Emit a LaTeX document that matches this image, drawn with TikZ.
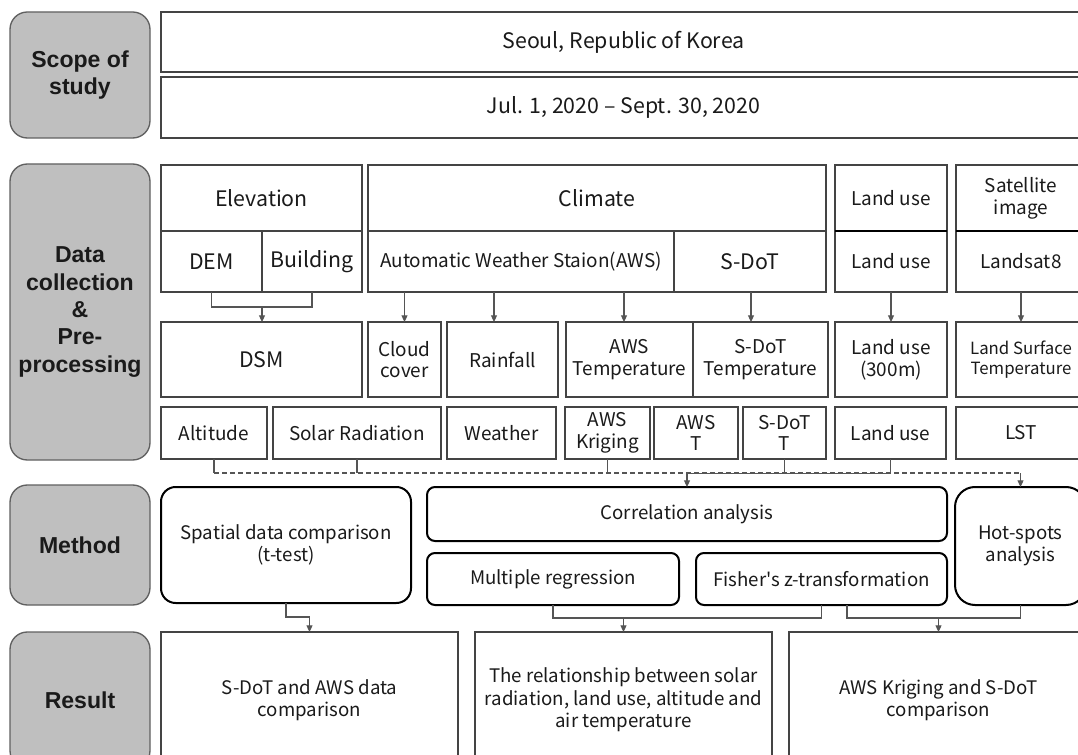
\documentclass[tikz,border=0pt]{standalone}
\usepackage{fontspec}
\setmainfont{Noto Sans CJK KR}[Ligatures=TeXOff]
\newfontfamily\lblfont{Liberation Sans}
\usetikzlibrary{arrows.meta}
\definecolor{lblgray}{HTML}{BFBFBF}
\definecolor{edgec}{HTML}{444444}
\definecolor{connc}{HTML}{555555}
\definecolor{txtc}{HTML}{1A1A1A}
\newcommand\bx[7]{\node[#1, minimum width={(#4-#3)*0.75pt}, minimum height={(#6-#5)*0.75pt}] (#2) at ({(#3+#4)/2},{(#5+#6)/2}) {#7};}
\tikzset{
 base/.style={inner sep=0pt, outer sep=0pt, align=center, text=txtc, font=\fontsize{14.2}{16.3}\selectfont},
 box/.style={base, draw=edgec, line width=0.9pt},
 bigbox/.style={box, font=\fontsize{16}{17}\selectfont},
 smallbox/.style={box, font=\fontsize{12.6}{15}\selectfont},
 lbl/.style={base, draw=edgec!85, fill=lblgray, line width=1pt, rounded corners=13pt, font=\lblfont\bfseries\fontsize{17.3}{20.5}\selectfont},
 meth/.style={base, draw=black, line width=1.5pt, rounded corners=#1, font=\fontsize{14}{16.5}\selectfont},
 meth/.default=8pt,
 res/.style={box, font=\fontsize{14}{16.8}\selectfont},
 wire/.style={draw=connc, line width=0.8pt},
 arr/.style={wire, -{Triangle[length=5pt,width=4.5pt]}},
 dsh/.style={wire, dash pattern=on 3.5pt off 2.5pt},
}
\begin{document}
\begin{tikzpicture}[x=0.75pt,y=-0.75pt]
\useasboundingbox (0,0) rectangle (1078,755);
\fill[white] (0,0) rectangle (1078,755);
\clip (0,0) rectangle (1078,755);
% labels
\bx{lbl}{scope}{10}{150}{12}{138}{Scope of\\study}
\bx{lbl}{data}{10}{150}{164}{460}{Data\\collection\\\&\\Pre-\\processing}
\bx{lbl}{meth}{10}{150}{485}{605}{Method}
\bx{lbl}{res}{10}{150}{632}{768}{Result}
% scope
\bx{bigbox}{seoul}{161}{1086}{12}{72}{Seoul, Republic of Korea}
\bx{bigbox}{jul}{161}{1086}{77}{138}{Jul. 1, 2020 – Sept. 30, 2020}
% row 1
\bx{bigbox}{elev}{161}{362}{165}{231}{Elevation}
\bx{bigbox}{clim}{368}{826}{165}{231}{Climate}
\bx{box}{lu1}{835}{947}{165}{231}{Land use}
\bx{box}{sat}{956}{1086}{165}{231}{Satellite\\image}
% row 2
\bx{bigbox}{dem}{161}{262}{231}{292}{DEM}
\bx{bigbox}{bld}{262}{362}{231}{292}{Building}
\bx{box}{aws}{368}{674}{231}{292}{Automatic Weather Staion(AWS)}
\bx{bigbox}{sdot}{674}{826}{231}{292}{S-DoT}
\bx{box}{lu2}{835}{947}{231}{292}{Land use}
\bx{box}{lsat}{956}{1086}{231}{292}{Landsat8}
\draw[black, line width=1.4pt] (lu1.south west) -- (lu1.south east);
\draw[black, line width=1.4pt] (sat.south west) -- (sat.south east);
% row 3
\bx{bigbox}{dsm}{161}{362}{322}{397}{DSM}
\bx{box}{cloud}{368}{441}{322}{397}{Cloud\\cover}
\bx{box}{rain}{447}{558}{322}{397}{Rainfall}
\bx{box}{awst}{566}{693}{322}{397}{AWS\\Temperature}
\bx{box}{sdott}{693}{828}{322}{397}{S-DoT\\Temperature}
\bx{box}{lu3}{835}{947}{322}{397}{Land use\\(300m)}
\bx{smallbox}{lst1}{956}{1086}{322}{397}{Land Surface\\Temperature}
% row 4
\bx{box}{alt}{161}{267}{407}{459}{Altitude}
\bx{box}{solar}{273}{441}{407}{459}{Solar Radiation}
\bx{box}{weather}{447}{556}{407}{459}{Weather}
\bx{box}{awsk}{565}{650}{407}{459}{AWS\\Kriging}
\bx{box}{awsT}{654}{738}{407}{459}{AWS\\T}
\bx{box}{sdotT}{743}{826}{407}{459}{S-DoT\\T}
\bx{box}{lu4}{835}{946}{407}{459}{Land use}
\bx{box}{lst}{956}{1086}{407}{459}{LST}
% method
\bx{meth=11pt}{spatial}{161}{411}{487}{603}{Spatial data comparison\\(t-test)}
\bx{meth=6pt}{corr}{427}{947}{487}{541}{Correlation analysis}
\bx{meth=6pt}{mreg}{427}{679}{553}{605}{Multiple regression}
\bx{meth=6pt}{fish}{696}{947}{553}{605}{Fisher's z-transformation}
\bx{meth=15pt}{hot}{955}{1086}{487}{605}{Hot-spots\\analysis}
% result
\bx{res}{r1}{161}{458}{632}{768}{S-DoT and AWS data\\comparison}
\bx{res}{r2}{475}{772}{632}{768}{The relationship between solar\\radiation, land use, altitude and\\air temperature}
\bx{res}{r3}{789}{1088}{632}{768}{AWS Kriging and S-DoT\\comparison}
% connectors: elevation
\coordinate (c1) at (262,307);
\draw[wire] (dem.south) -- (dem.south |- c1) -- (bld.south |- c1) -- (bld.south);
\draw[arr] (c1) -- (c1 |- dsm.north);
% climate
\coordinate (xr) at (494,0);
\coordinate (xa) at (624,0);
\coordinate (xs) at (751,0);
\draw[arr] (aws.south -| cloud.north) -- (cloud.north);
\draw[arr] (aws.south -| xr) -- (rain.north -| xr);
\draw[arr] (aws.south -| xa) -- (awst.north -| xa);
\draw[arr] (sdot.south -| xs) -- (sdott.north -| xs);
\draw[arr] (lu2.south) -- (lu3.north);
\draw[arr] (lsat.south) -- (lst1.north);
% dashed collector
\coordinate (hy) at (0,473);
\draw[wire] (alt.south) -- (alt.south |- hy);
\draw[wire] (solar.south) -- (solar.south |- hy);
\draw[wire] (awsk.south) -- (awsk.south |- hy);
\draw[wire] (sdotT.south) -- (sdotT.south |- hy);
\draw[wire] (lu4.south) -- (lu4.south |- hy);
\draw[dsh] (alt.south |- hy) -- (hot.north |- hy);
\draw[wire, line width=0.5pt] (corr.north |- hy) -- (lu4.south |- hy);
\draw[arr] (corr.north |- hy) -- (corr.north);
\draw[arr] (hot.north |- hy) -- (hot.north);
% method -> result
\coordinate (my) at (0,617);
\coordinate (my2) at (0,618);
\coordinate (xf) at (847,0);
\draw[wire] (spatial.south) -- (spatial.south |- my) -- (r1.north |- my);
\draw[arr] (r1.north |- my) -- (r1.north);
\draw[wire] (mreg.south) -- (mreg.south |- my2) -- (fish.south |- my2) -- (fish.south);
\draw[arr] (r2.north |- my2) -- (r2.north);
\draw[wire] (fish.south -| xf) -- (xf |- my2) -- (hot.south |- my2) -- (hot.south);
\draw[arr] (r3.north |- my2) -- (r3.north);
\end{tikzpicture}
\end{document}
